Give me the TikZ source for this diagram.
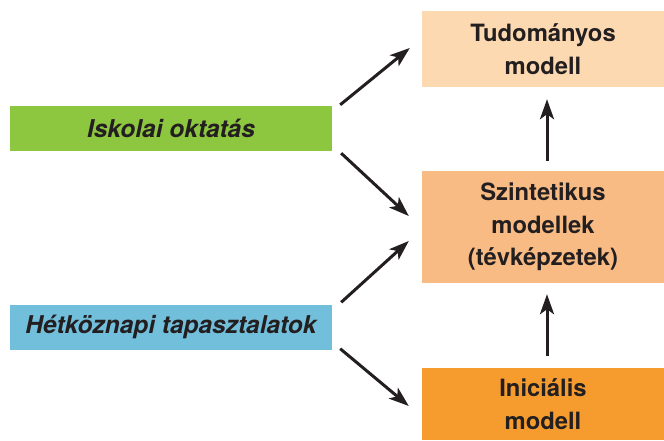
\documentclass[tikz,border=0pt]{standalone}
\usepackage{fontspec}
\setmainfont{TeX Gyre Heros}
\usetikzlibrary{arrows.meta}
\definecolor{zold}{HTML}{8DC63F}
\definecolor{kek}{HTML}{72BFDC}
\definecolor{halvany}{HTML}{FCD9B1}
\definecolor{barack}{HTML}{F9BB84}
\definecolor{narancs}{HTML}{F69C2F}
\definecolor{szoveg}{HTML}{231F20}

\begin{document}
\begin{tikzpicture}[x=1pt,y=-1pt,
    doboz/.style={inner sep=0pt,text=szoveg,align=center,
      font=\fontsize{23.8}{32.5}\selectfont\bfseries},
    sav/.style={doboz,minimum width=322pt,minimum height=45pt,
      font=\fontsize{24.5}{32}\selectfont\bfseries\itshape},
    modell/.style={doboz,minimum width=242pt},
    nyil/.style={line width=3pt,draw=szoveg,
      -{Stealth[length=20pt,width=14pt,inset=5pt]}}]
    \useasboundingbox (0,0) rectangle (664,440);

    \node [sav,fill=zold] (iskola) at (171,128.5) {Iskolai oktatás};
    \node [sav,fill=kek] (hetkoz) at (171,327) {Hétköznapi tapasztalatok};

    \node [modell,fill=halvany,minimum height=76pt] (tudom) at (543,49)
      {Tudományos\\modell};
    \node [modell,fill=barack,minimum height=112pt] (szint) at (543,227)
      {Szintetikus\\modellek\\(tévképzetek)};
    \node [modell,fill=narancs,minimum height=72pt] (inic) at (543,404)
      {Iniciális\\modell};

    \draw [nyil] ([xshift=8pt,yshift=1pt]iskola.north east) -- ([xshift=-12pt,yshift=1pt]tudom.west);
    \draw [nyil] ([xshift=9pt,yshift=-2pt]iskola.south east) -- ([xshift=-13pt,yshift=11pt]szint.west);
    \draw [nyil] ([xshift=9pt,yshift=2pt]hetkoz.north east) -- ([xshift=-13pt,yshift=-14pt]szint.west);
    \draw [nyil] ([xshift=8pt,yshift=1pt]hetkoz.south east) -- ([xshift=-13pt,yshift=-2pt]inic.west);

    \draw [nyil] ([xshift=4pt,yshift=10pt]szint.north) -- ([xshift=4pt,yshift=-12pt]tudom.south);
    \draw [nyil] ([xshift=4pt,yshift=12pt]inic.north) -- ([xshift=4pt,yshift=-11pt]szint.south);
\end{tikzpicture}
\end{document}
